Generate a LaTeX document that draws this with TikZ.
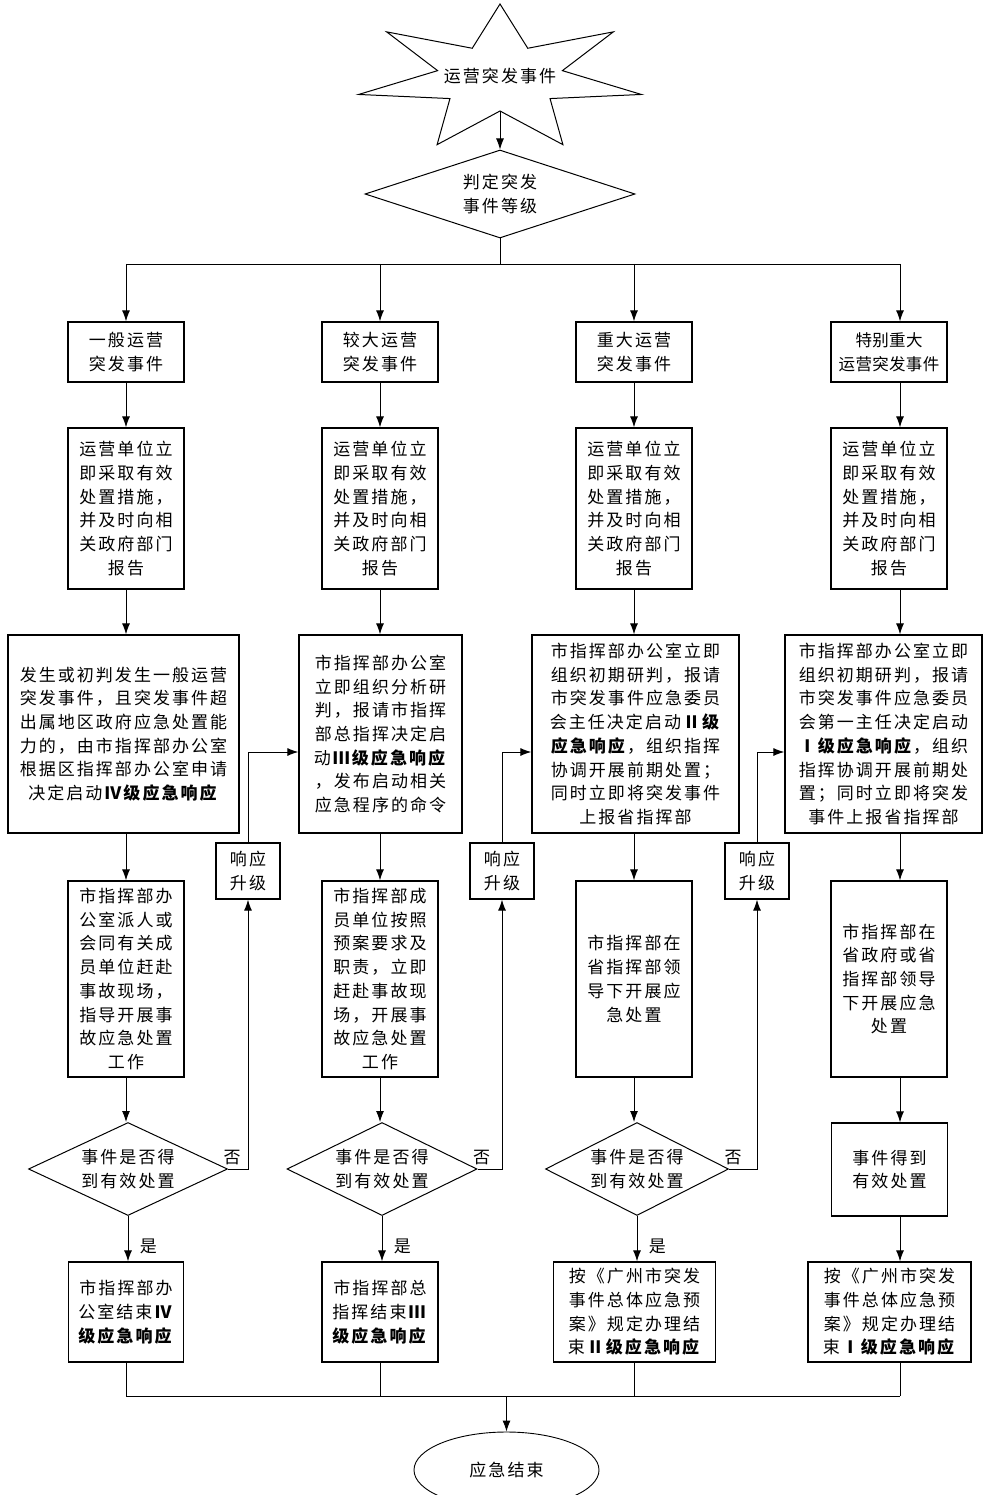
\documentclass[tikz,border=0pt]{standalone}
\usepackage{fontspec}
\setmainfont{Noto Sans CJK SC}[LetterSpace=12]
\usepackage{tikz}
\usetikzlibrary{arrows.meta}
\usetikzlibrary{shapes.geometric}
\tikzset{
  every node/.style={font=\fontsize{17}{23.7}\selectfont},
  box/.style={draw, rectangle, inner sep=0pt, align=center, line width=1.3pt},
  choice/.style={draw, diamond, aspect=2, inner sep=0pt, align=center, line width=1pt},
  arr/.style={-{Latex[length=11pt,width=8pt]}},
}

\begin{document}
\begin{tikzpicture}[x=1pt,y=-1pt,line width=0.9pt]
\useasboundingbox (0,0) rectangle (984,1495);

% star at the top
\begin{scope}[shift={(500,78)}]
\draw[line width=1pt] (270:145 and 74) \foreach \k in {0,...,6} {
  -- ({270+(\k+0.5)*360/7}:64 and 33) -- ({270+(\k+1)*360/7}:145 and 74)} -- cycle;
\end{scope}
\node (start) at (500,76) {运营突发事件};
\coordinate (starbot) at (500,111);
\node[choice, aspect=3, minimum width=270, minimum height=88] (judge) at (500,194) {判定突发\\事件等级};

% row 1
\node[box, minimum width=116, minimum height=60] (r1a) at (126,352) {一般运营\\突发事件};
\node[box, minimum width=116, minimum height=60] (r1b) at (380,352) {较大运营\\突发事件};
\node[box, minimum width=116, minimum height=60] (r1c) at (634,352) {重大运营\\突发事件};
\node[box, minimum width=116, minimum height=60,
  font=\fontsize{16.5}{23.7}\selectfont\addfontfeature{LetterSpace=2}] (r1d) at (889,352) {特别重大\\运营突发事件};

% row 2
\foreach \col/\x in {a/126, b/380, c/634, d/889}
  \node[box, minimum width=116, minimum height=161] (r2\col) at (\x,508.5)
    {运营单位立\\即采取有效\\处置措施，\\并及时向相\\关政府部门\\报告};

% row 3
\node[box, minimum width=231, minimum height=198] (r3a) at (123.5,734)
  {发生或初判发生一般运营\\突发事件，且突发事件超\\出属地区政府应急处置能\\力的，由市指挥部办公室\\根据区指挥部办公室申请\\决定启动\textbf{Ⅳ级应急响应}};
\node[box, minimum width=163, minimum height=198] (r3b) at (380.5,734)
  {市指挥部办公室\\立即组织分析研\\判，报请市指挥\\部总指挥决定启\\动\textbf{Ⅲ级应急响应}\\，发布启动相关\\应急程序的命令};
\node[box, minimum width=207, minimum height=198] (r3c) at (635.5,734)
  {市指挥部办公室立即\\组织初期研判，报请\\市突发事件应急委员\\会主任决定启动\textbf{Ⅱ级}\\\textbf{应急响应}，组织指挥\\协调开展前期处置；\\同时立即将突发事件\\上报省指挥部};
\node[box, minimum width=197, minimum height=198] (r3d) at (883.5,734)
  {市指挥部办公室立即\\组织初期研判，报请\\市突发事件应急委员\\会第一主任决定启动\\\textbf{Ⅰ级应急响应}，组织\\指挥协调开展前期处\\置；同时立即将突发\\事件上报省指挥部};

% escalation boxes
\node[box, minimum width=64, minimum height=56] (upa) at (248,871) {响应\\升级};
\node[box, minimum width=64, minimum height=56] (upb) at (502,871) {响应\\升级};
\node[box, minimum width=64, minimum height=56] (upc) at (757,871) {响应\\升级};

% row 4
\node[box, minimum width=116, minimum height=196] (r4a) at (126,979)
  {市指挥部办\\公室派人或\\会同有关成\\员单位赶赴\\事故现场，\\指导开展事\\故应急处置\\工作};
\node[box, minimum width=116, minimum height=196] (r4b) at (380,979)
  {市指挥部成\\员单位按照\\预案要求及\\职责，立即\\赶赴事故现\\场，开展事\\故应急处置\\工作};
\node[box, minimum width=116, minimum height=196] (r4c) at (634,979)
  {市指挥部在\\省指挥部领\\导下开展应\\急处置};
\node[box, minimum width=116, minimum height=196] (r4d) at (889,979)
  {市指挥部在\\省政府或省\\指挥部领导\\下开展应急\\处置};

% row 5
\node[choice, minimum width=199, minimum height=93] (r5a) at (128,1169) {事件是否得\\到有效处置};
\node[choice, minimum width=190, minimum height=93] (r5b) at (382,1169) {事件是否得\\到有效处置};
\node[choice, minimum width=183, minimum height=93] (r5c) at (637,1169) {事件是否得\\到有效处置};
\node[box, minimum width=116, minimum height=93] (r5d) at (889.5,1169.5) {事件得到\\有效处置};

% row 6
\node[box, minimum width=115, minimum height=100] (r6a) at (126,1312)
  {市指挥部办\\公室结束\textbf{Ⅳ}\\\textbf{级应急响应}};
\node[box, minimum width=116, minimum height=100] (r6b) at (380,1312)
  {市指挥部总\\指挥结束\textbf{Ⅲ}\\\textbf{级应急响应}};
\node[box, minimum width=162, minimum height=100] (r6c) at (634.5,1312)
  {按《广州市突发\\事件总体应急预\\案》规定办理结\\束\textbf{Ⅱ级应急响应}};
\node[box, minimum width=163, minimum height=100] (r6d) at (889.5,1312)
  {按《广州市突发\\事件总体应急预\\案》规定办理结\\束\textbf{Ⅰ级应急响应}};

\node[draw, ellipse, inner sep=0pt, minimum width=185, minimum height=76] (end) at (506.5,1470) {应急结束};

% connectors
\coordinate (c4) at (900,0);
\coordinate (bus) at (0,264);
\coordinate (up) at (0,752);
\coordinate (join) at (0,1396);

\draw[arr] (starbot) -- (judge.north);
\draw (judge.south) -- (judge.south |- bus);
\draw (r1a.north |- bus) -- (c4 |- bus);
\foreach \col in {a,b,c} {
  \draw[arr] (r1\col.north |- bus) -- (r1\col.north);
  \draw[arr] (r1\col.south) -- (r2\col.north);
  \draw[arr] (r2\col.south) -- (r2\col.south |- r3\col.north);
  \draw[arr] (r3\col.south -| r4\col) -- (r4\col.north);
  \draw[arr] (r4\col.south) -- (r4\col.south |- r5\col.north);
  \draw[arr] (r5\col.south) -- (r5\col.south |- r6\col.north) node[pos=0.67, right=8pt] {是};
  \draw (r6\col.south) -- (r6\col.south |- join);
}
\draw[arr] (c4 |- bus) -- (c4 |- r1d.north);
\foreach \top/\low in {r1d/r2d, r2d/r3d, r3d/r4d, r4d/r5d, r5d/r6d}
  \draw[arr] (c4 |- \top.south) -- (c4 |- \low.north);
\draw (c4 |- r6d.south) -- (c4 |- join);
\draw (r6a.south |- join) -- (c4 |- join);
\draw[arr] (end.north |- join) -- (end.north);

\foreach \dec/\lift/\nxt in {r5a/upa/r3b, r5b/upb/r3c, r5c/upc/r3d} {
  \draw[arr] (\dec.east) node[above, xshift=4pt] {否} -- (\dec.east -| \lift) -- (\lift.south);
  \draw[arr] (\lift.north) -- (\lift.north |- up) -- (\nxt.west |- up);
}
\end{tikzpicture}
\end{document}
